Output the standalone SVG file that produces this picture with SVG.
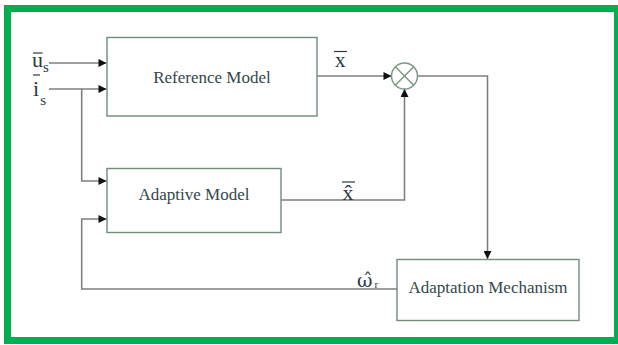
<svg xmlns="http://www.w3.org/2000/svg" width="618" height="345" viewBox="0 0 618 345">
<style>
.box{fill:#ffffff;stroke:#6f8d78;stroke-width:1.4}
.lbl{font-family:"Liberation Serif","DejaVu Serif",serif;font-size:17px;fill:#34474a;text-anchor:middle}
.sym{font-family:"Liberation Serif","DejaVu Serif",serif;fill:#2b3a46}
.wire{fill:none;stroke:#7f7f7f;stroke-width:1.6}
.bar{stroke:#2b3a46;stroke-width:1.2}
</style>
<defs>
<marker id="arr" viewBox="0 0 10 10" refX="10" refY="5" markerWidth="9" markerHeight="8" markerUnits="userSpaceOnUse" orient="auto">
<path d="M0,0 L10,5 L0,10 z" fill="#111111"/>
</marker>
</defs>
<rect x="0" y="0" width="618" height="345" fill="#ffffff"/>
<rect x="7.5" y="8.5" width="610" height="332" fill="none" stroke="#00b050" stroke-width="7"/>

<g id="connectors">
<path class="wire" d="M49,63 H106.5" marker-end="url(#arr)"/>
<path class="wire" d="M49,89 H106.5" marker-end="url(#arr)"/>
<path class="wire" d="M81.7,89 V181 H106.5" marker-end="url(#arr)"/>
<path class="wire" d="M397,289 H81.7 V219 H106.5" marker-end="url(#arr)"/>
<path class="wire" d="M317,76 H391.5" marker-end="url(#arr)"/>
<path class="wire" d="M281,200 H404.5 V89" marker-end="url(#arr)"/>
<path class="wire" d="M417.5,76 H487.5 V259" marker-end="url(#arr)"/>
</g>

<g id="input-us">
<line class="bar" x1="33" y1="53" x2="42.5" y2="53"/>
<text class="sym" x="32" y="67" font-size="22">u<tspan font-size="15" dy="5">s</tspan></text>
</g>
<g id="input-is">
<line class="bar" x1="33" y1="75" x2="40" y2="75"/>
<text class="sym" x="33" y="96" font-size="22">i<tspan font-size="15" dy="9" dx="1">s</tspan></text>
</g>

<g id="reference-model">
<rect class="box" x="107" y="37.5" width="210" height="78.5"/>
<text class="lbl" x="212" y="83">Reference Model</text>
</g>

<g id="adaptive-model">
<rect class="box" x="107" y="168.5" width="174" height="64"/>
<text class="lbl" x="194" y="200">Adaptive Model</text>
</g>

<g id="adaptation-mechanism">
<rect class="box" x="397" y="259.5" width="182" height="61"/>
<text class="lbl" x="488" y="293">Adaptation Mechanism</text>
</g>

<g id="sum-junction">
<circle cx="404.5" cy="76" r="13" fill="#ffffff" stroke="#7a9682" stroke-width="1.4"/>
<line x1="395.3" y1="66.8" x2="413.7" y2="85.2" stroke="#7a9682" stroke-width="1.4"/>
<line x1="413.7" y1="66.8" x2="395.3" y2="85.2" stroke="#7a9682" stroke-width="1.4"/>
</g>

<g id="label-xbar">
<line class="bar" x1="334" y1="51.5" x2="347" y2="51.5"/>
<text class="sym" x="335" y="66.5" font-size="21">x</text>
</g>
<g id="label-xhat">
<line class="bar" x1="342" y1="182" x2="355" y2="182"/>
<text class="sym" x="342.5" y="200" font-size="22">x̂</text>
</g>
<g id="label-omega">
<text x="357" y="286.5" font-family="'DejaVu Serif',serif" font-size="19" fill="#2b3a46">ω̂<tspan font-family="'Liberation Serif',serif" font-size="11" dx="2" dy="1.5">r</tspan></text>
</g>
</svg>
